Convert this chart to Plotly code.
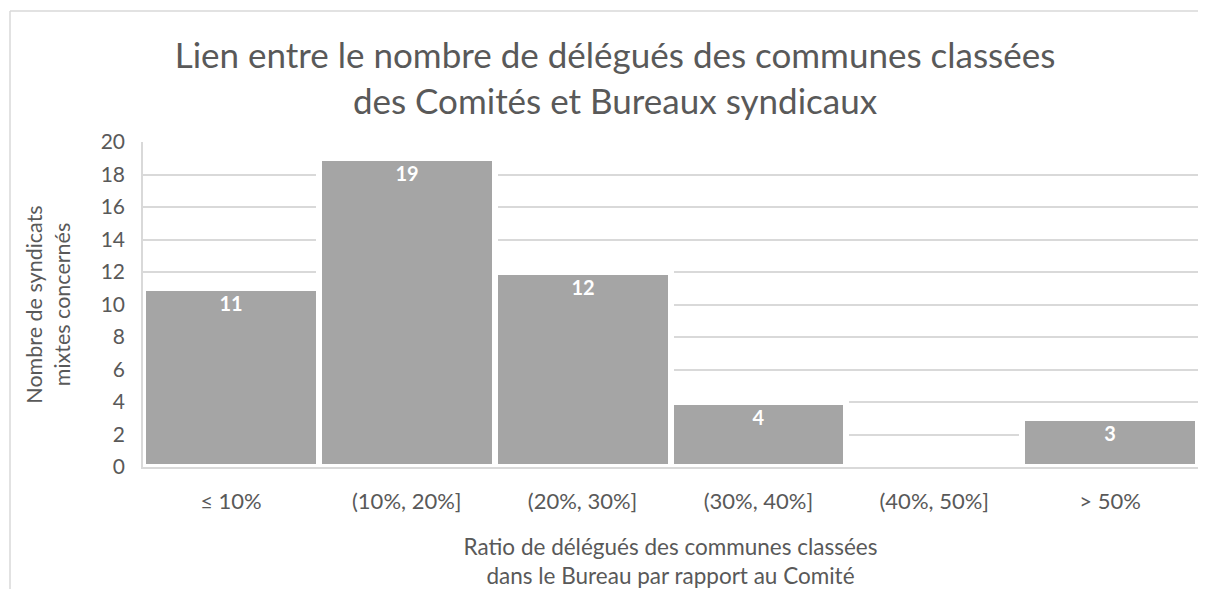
import plotly.graph_objects as go

categories = ["≤ 10%", "(10%, 20%]", "(20%, 30%]", "(30%, 40%]", "(40%, 50%]", "> 50%"]
counts = [11, 19, 12, 4, 0, 3]
labels = ["11", "19", "12", "4", "", "3"]

FONT = "Lato, 'Open Sans', sans-serif"
GREY_TXT = "#595959"

# page body has an 8px margin: figure is sized to fit the window without scrolling
OFF = 8
W, H = 1206 - 2 * OFF, 597 - 2 * OFF
# target plot area in screen pixels: x 143..1201, y 142..467
L = 143 - OFF
T = 142 - OFF
R = 0
B = H - (467 - OFF)
pw, ph = W - L - R, H - T - B

def px_x(sx):
    return (sx - OFF - L) / pw

def px_y(sy):
    return (H - B - (sy - OFF)) / ph

fig = go.Figure()
fig.add_trace(go.Bar(
    x=categories, y=counts, text=labels,
    textposition="inside", insidetextanchor="end",
    textfont=dict(family=FONT, size=20, color="white", weight="bold"),
    marker=dict(color="#A5A5A5", line=dict(color="white", width=6)),
    cliponaxis=False,
))

fig.update_layout(
    width=W, height=H,
    margin=dict(l=L, r=R, t=T, b=B, autoexpand=False),
    paper_bgcolor="white", plot_bgcolor="white",
    bargap=0,
    showlegend=False,
    font=dict(family=FONT, color=GREY_TXT),
    title=dict(
        text="Lien entre le nombre de délégués des communes classées<br>des Comités et Bureaux syndicaux",
        x=(615 - OFF) / W, xanchor="center", y=1 - 60 / H, yanchor="middle",
        font=dict(family=FONT, size=35, color=GREY_TXT),
    ),
    xaxis=dict(
        automargin=False,
        showgrid=False, showline=True, linecolor="#D9D9D9", linewidth=2,
        ticks="", ticklabelstandoff=14,
        tickfont=dict(family=FONT, size=22, color=GREY_TXT),
        title=dict(text="Ratio de délégués des communes classées<br>dans le Bureau par rapport au Comité",
                   font=dict(family=FONT, size=22.5, color=GREY_TXT), standoff=32),
    ),
    yaxis=dict(
        automargin=False,
        range=[0, 20], dtick=2, tick0=0,
        showgrid=True, gridcolor="#D9D9D9", gridwidth=1.5,
        showline=True, linecolor="#D9D9D9", linewidth=1.5,
        zeroline=False,
        ticks="", ticklabelstandoff=12,
        tickfont=dict(family=FONT, size=21, color=GREY_TXT),
        title=dict(text="Nombre de syndicats<br>mixtes concernés",
                   font=dict(family=FONT, size=21.5, color=GREY_TXT), standoff=24),
    ),
    shapes=[
        dict(type="line", xref="paper", yref="paper",
             x0=px_x(10), x1=px_x(10), y0=px_y(11), y1=px_y(600),
             line=dict(color="#D9D9D9", width=1.5)),
        dict(type="line", xref="paper", yref="paper",
             x0=px_x(10), x1=px_x(1210), y0=px_y(11), y1=px_y(11),
             line=dict(color="#D9D9D9", width=1.5)),
    ],
)

fig.write_html("out.html")
